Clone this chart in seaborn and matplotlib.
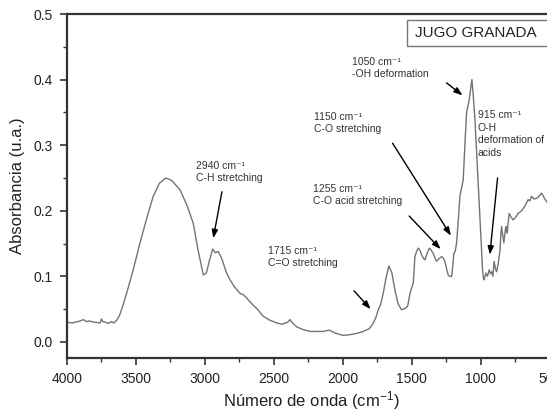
import matplotlib
matplotlib.use("Agg")
import matplotlib.pyplot as plt
from matplotlib.patches import Rectangle
from matplotlib.ticker import MultipleLocator
import seaborn as sns
import pandas as pd

wavenumber = [4000, 3960, 3920, 3880, 3860, 3840, 3800, 3760, 3750, 3740, 3720, 3700, 3680, 3660,
              3640, 3620, 3600, 3568, 3520, 3471, 3420, 3375, 3330, 3283, 3240, 3181, 3130, 3085,
              3050, 3012, 2990, 2970, 2944, 2925, 2904, 2880, 2843, 2819, 2790, 2746, 2722, 2698,
              2660, 2625, 2577, 2529, 2480, 2440, 2420, 2400, 2384, 2370, 2336, 2290, 2239, 2200,
              2143, 2100, 2050, 1998, 1950, 1900, 1853, 1810, 1780, 1760, 1744, 1725, 1708, 1690,
              1667, 1645, 1623, 1600, 1575, 1550, 1530, 1514, 1490, 1478, 1466, 1454, 1442, 1430,
              1418, 1406, 1390, 1374, 1360, 1346, 1333, 1321, 1303, 1285, 1273, 1261, 1249, 1237,
              1224, 1212, 1204, 1196, 1186, 1176, 1164, 1152, 1140, 1128, 1116, 1104, 1094, 1085,
              1075, 1065, 1055, 1043, 1031, 1020, 1010, 1002, 995, 988, 982, 978, 970, 964, 952,
              940, 930, 922, 913, 904, 895, 886, 874, 862, 856, 850, 841, 833, 826, 819, 814, 809,
              802, 795, 780, 766, 748, 730, 705, 681, 669, 657, 645, 633, 615, 596, 578, 560, 542,
              524, 500]
absorbance = [0.030, 0.029, 0.031, 0.034, 0.031, 0.032, 0.030, 0.029, 0.035, 0.031, 0.030, 0.028,
              0.031, 0.029, 0.033, 0.040, 0.052, 0.074, 0.110, 0.151, 0.190, 0.222, 0.242, 0.250,
              0.246, 0.232, 0.208, 0.181, 0.140, 0.102, 0.105, 0.122, 0.1415, 0.136, 0.138, 0.128,
              0.105, 0.095, 0.085, 0.074, 0.072, 0.067, 0.058, 0.051, 0.039, 0.033, 0.029, 0.027,
              0.0285, 0.030, 0.034, 0.030, 0.023, 0.019, 0.016, 0.016, 0.016, 0.018, 0.013, 0.010,
              0.011, 0.013, 0.016, 0.020, 0.0285, 0.038, 0.049, 0.058, 0.074, 0.095, 0.116, 0.105,
              0.079, 0.058, 0.049, 0.051, 0.055, 0.074, 0.090, 0.130, 0.138, 0.143, 0.140, 0.133,
              0.128, 0.125, 0.135, 0.143, 0.140, 0.135, 0.128, 0.123, 0.127, 0.130, 0.128, 0.123,
              0.112, 0.102, 0.100, 0.0997, 0.115, 0.135, 0.138, 0.151, 0.185, 0.222, 0.235, 0.247,
              0.300, 0.349, 0.360, 0.369, 0.385, 0.400, 0.375, 0.339, 0.290, 0.247, 0.205, 0.171,
              0.140, 0.110, 0.098, 0.0947, 0.100, 0.105, 0.100, 0.110, 0.104, 0.107, 0.100, 0.123,
              0.112, 0.107, 0.120, 0.138, 0.160, 0.176, 0.162, 0.151, 0.165, 0.176, 0.172, 0.166,
              0.182, 0.196, 0.190, 0.186, 0.190, 0.196, 0.200, 0.207, 0.212, 0.217, 0.215, 0.222,
              0.218, 0.219, 0.222, 0.227, 0.220, 0.214, 0.205]

x_ticks = [4000, 3500, 3000, 2500, 2000, 1500, 1000, 500]
x_tick_labels = ["4000", "3500", "3000", "2500", "2000", "1500", "1000", "500"]
y_ticks = [0.0, 0.1, 0.2, 0.3, 0.4, 0.5]
y_tick_labels = ["0.0", "0.1", "0.2", "0.3", "0.4", "0.5"]

# annotations: text, text position (wn, abs), arrow tail, arrow head
ann_texts = ["2940 cm\u207b\u00b9\nC-H stretching",
             "1715 cm\u207b\u00b9\nC=O stretching",
             "1255 cm\u207b\u00b9\nC-O acid stretching",
             "1150 cm\u207b\u00b9\nC-O stretching",
             "1050 cm\u207b\u00b9\n-OH deformation",
             "915 cm\u207b\u00b9\nO-H\ndeformation of\nacids"]
ann_text_pos = [(3065, 0.276), (2543, 0.147), (2217, 0.241), (2210, 0.351), (1937, 0.435), (1022, 0.353)]
ann_tail = [(2877, 0.229), (1920, 0.078), (1520, 0.192), (1640, 0.303), (1249, 0.395), (879, 0.250)]
ann_head = [(2940, 0.158), (1799, 0.050), (1292, 0.1415), (1217, 0.162), (1133, 0.376), (935, 0.133)]

sns.set_style("ticks")
plt.rcParams['font.family'] = ['Liberation Sans', 'DejaVu Sans']
plt.rcParams['mathtext.fontset'] = 'custom'
plt.rcParams['mathtext.rm'] = 'Liberation Sans'
plt.rcParams['mathtext.it'] = 'Liberation Sans'
plt.rcParams['mathtext.default'] = 'regular'

df = pd.DataFrame({"wn": wavenumber, "A": absorbance})

fig = plt.figure(figsize=(5.47, 4.12), dpi=100)
W, H = 547, 412
ax_left, ax_top, ax_bottom = 67, 14, 358
ax_w = 487
ax_h = ax_bottom - ax_top
ax = fig.add_axes([ax_left / W, 1 - ax_bottom / H, ax_w / W, ax_h / H])

sns.lineplot(data=df, x="wn", y="A", ax=ax, color="#737373", linewidth=1.0, sort=False)

ax.set_xlim(4000, 470)
ax.set_ylim(-0.0245, 0.5)
ax.xaxis.set_minor_locator(MultipleLocator(250))
ax.yaxis.set_minor_locator(MultipleLocator(0.05))
ax.set_xticks(x_ticks)
ax.set_xticklabels(x_tick_labels)
ax.set_yticks(y_ticks)
ax.set_yticklabels(y_tick_labels)
ax.tick_params(axis='both', which='major', direction='out', length=5, width=1.2,
               labelsize=10, colors='#333333', labelcolor='#222222', pad=5)
ax.tick_params(axis='both', which='minor', direction='out', length=3, width=1.0, colors='#333333')
for s in ['left', 'bottom', 'top', 'right']:
    ax.spines[s].set_linewidth(1.6)
    ax.spines[s].set_color('#333333')

ax.set_xlabel("Número de onda (cm$^{-1}$)", fontsize=12, color='#222222')
ax.xaxis.label.set_va('baseline')
ax.xaxis.set_label_coords((311 - ax_left) / ax_w, (ax_bottom - 406) / ax_h)
ax.set_ylabel("Absorbancia (u.a.)", fontsize=12, color='#222222', labelpad=6)

for t, tp, tail, head in zip(ann_texts, ann_text_pos, ann_tail, ann_head):
    ax.text(tp[0], tp[1], t, fontsize=7.5, color='#333333', va='top', ha='left', linespacing=1.3)
    ax.annotate("", xy=head, xytext=tail,
                arrowprops=dict(arrowstyle='-|>,head_length=0.5,head_width=0.18',
                                color='black', lw=1.0, shrinkA=0, shrinkB=0))

# title box in the upper right corner
bx0 = (407 - ax_left) / ax_w
by0 = (ax_bottom - 46) / ax_h
bh = 26 / ax_h
ax.add_patch(Rectangle((bx0, by0), 0.5, bh, transform=ax.transAxes, fill=False,
                       edgecolor='#777777', linewidth=1.0, clip_on=True))
ax.text((415 - ax_left) / ax_w, (ax_bottom - 33) / ax_h, "JUGO GRANADA",
        transform=ax.transAxes, fontsize=11, color='#222222', va='center', ha='left')

fig.savefig("out.png", dpi=100)
